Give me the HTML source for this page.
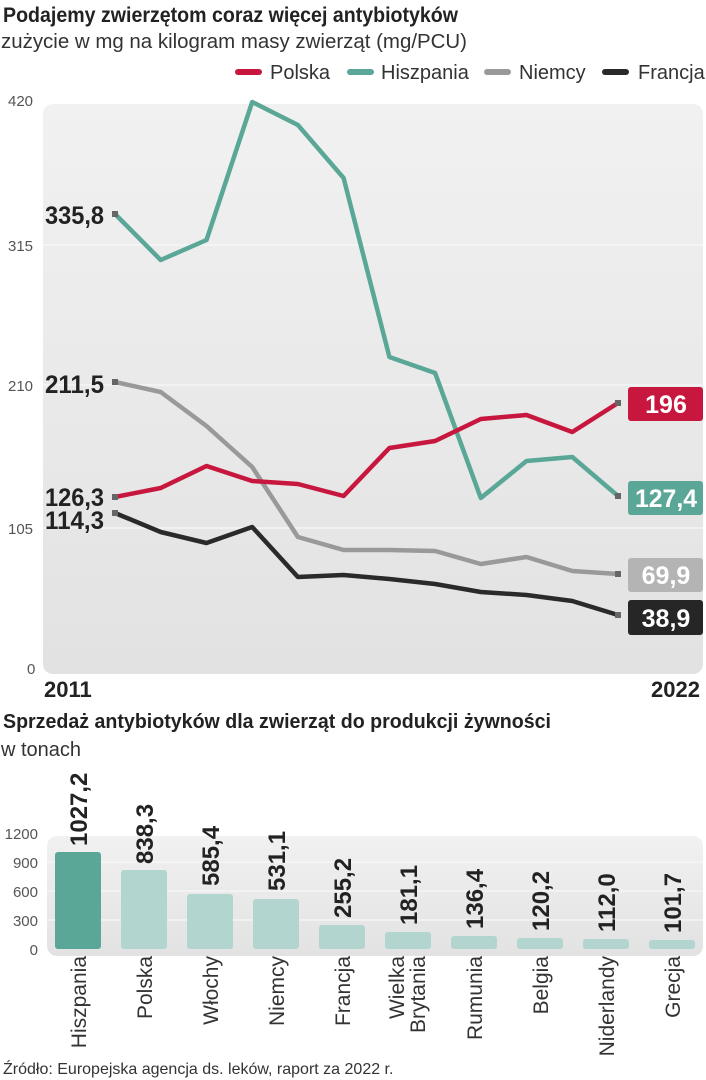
<!DOCTYPE html>
<html><head><meta charset="utf-8"><style>
html,body{margin:0;padding:0;background:#fff;}
svg{display:block;}
text{font-family:"Liberation Sans Narrow","Liberation Sans",sans-serif;}
</style></head><body>
<svg width="706" height="1080" viewBox="0 0 706 1080" xmlns="http://www.w3.org/2000/svg">
<defs>
<linearGradient id="g" x1="0" y1="0" x2="0" y2="1"><stop offset="0" stop-color="#f1f1f1"/><stop offset="1" stop-color="#e2e2e2"/></linearGradient>
</defs>
<text x="3" y="22" font-size="21" font-weight="bold" fill="#222" textLength="455" lengthAdjust="spacingAndGlyphs">Podajemy zwierzętom coraz więcej antybiotyków</text>
<text x="1" y="48" font-size="20" fill="#333" textLength="466" lengthAdjust="spacingAndGlyphs">zużycie w mg na kilogram masy zwierząt (mg/PCU)</text>
<g font-size="20" fill="#333">
<line x1="238" y1="72" x2="259" y2="72" stroke="#c8173f" stroke-width="6" stroke-linecap="round"/><text x="270" y="79">Polska</text>
<line x1="350" y1="72" x2="371" y2="72" stroke="#5aa797" stroke-width="6" stroke-linecap="round"/><text x="381" y="79">Hiszpania</text>
<line x1="487" y1="72" x2="508" y2="72" stroke="#999" stroke-width="6" stroke-linecap="round"/><text x="519" y="79">Niemcy</text>
<line x1="605" y1="72" x2="626" y2="72" stroke="#2a2a2a" stroke-width="6" stroke-linecap="round"/><text x="638" y="79">Francja</text>
</g>
<rect x="43" y="104" width="660" height="570" rx="10" fill="url(#g)"/>
<g stroke="#f8f8f8" stroke-width="1.2"><line x1="43" y1="245" x2="703" y2="245"/><line x1="43" y1="385" x2="703" y2="385"/><line x1="43" y1="528" x2="703" y2="528"/></g>
<g font-size="15" fill="#555">
<text x="8" y="106">420</text><text x="8" y="251">315</text><text x="8" y="391">210</text><text x="8" y="534">105</text><text x="27" y="674">0</text>
</g>
<g fill="none" stroke-width="4.5" stroke-linejoin="round">
<polyline stroke="#5aa797" points="115,214 160.7,260 206.5,240 252.2,102 297.9,125 343.6,178 389.4,357 435.1,373 480.8,498 526.5,461 572.3,457 618,496"/>
<polyline stroke="#999" points="115,382 160.7,392 206.5,426 252.2,467 297.9,537 343.6,550 389.4,550 435.1,551 480.8,564 526.5,557 572.3,571 618,574"/>
<polyline stroke="#2a2a2a" points="115,513 160.7,532 206.5,543 252.2,527 297.9,577 343.6,575 389.4,579 435.1,584 480.8,592 526.5,595 572.3,601 618,615"/>
<polyline stroke="#c8173f" points="115,497 160.7,488 206.5,466 252.2,481 297.9,484 343.6,496 389.4,448 435.1,441 480.8,419 526.5,415 572.3,432 618,403"/>
</g>
<g fill="#666">
<rect x="112" y="211" width="6" height="6"/><rect x="112" y="379" width="6" height="6"/><rect x="112" y="494" width="6" height="6"/><rect x="112" y="510" width="6" height="6"/>
<rect x="615" y="400" width="6" height="6"/><rect x="615" y="493" width="6" height="6"/><rect x="615" y="571" width="6" height="6"/><rect x="615" y="612" width="6" height="6"/>
</g>
<g font-size="25" font-weight="bold" fill="#222" text-anchor="end">
<text x="104" y="224" textLength="59" lengthAdjust="spacingAndGlyphs">335,8</text><text x="104" y="393" textLength="59" lengthAdjust="spacingAndGlyphs">211,5</text><text x="104" y="506" textLength="59" lengthAdjust="spacingAndGlyphs">126,3</text><text x="104" y="529" textLength="59" lengthAdjust="spacingAndGlyphs">114,3</text>
</g>
<rect x="628" y="387" width="75" height="34" rx="3" fill="#c8173f"/>
<rect x="628" y="481" width="75" height="34" rx="3" fill="#5aa797"/>
<rect x="628" y="558" width="75" height="34" rx="3" fill="#b4b4b4"/>
<rect x="628" y="600" width="75" height="35" rx="3" fill="#262626"/>
<g font-size="25" font-weight="bold" fill="#fff" text-anchor="middle">
<text x="666" y="413">196</text><text x="666" y="507" textLength="62" lengthAdjust="spacingAndGlyphs">127,4</text><text x="666" y="584">69,9</text><text x="666" y="627">38,9</text>
</g>
<text x="44" y="697" font-size="22" font-weight="bold" fill="#222">2011</text>
<text x="700" y="697" font-size="22" font-weight="bold" fill="#222" text-anchor="end">2022</text>

<text x="3" y="728" font-size="20" font-weight="bold" fill="#222" textLength="548" lengthAdjust="spacingAndGlyphs">Sprzedaż antybiotyków dla zwierząt do produkcji żywności</text>
<text x="1" y="756" font-size="20" fill="#333">w tonach</text>
<rect x="47" y="836" width="656" height="120" rx="10" fill="url(#g)"/>
<g stroke="#f8f8f8" stroke-width="1.2"><line x1="47" y1="862" x2="703" y2="862"/><line x1="47" y1="891" x2="703" y2="891"/><line x1="47" y1="920" x2="703" y2="920"/></g>
<g font-size="15" fill="#555" text-anchor="end">
<text x="38" y="839">1200</text><text x="38" y="868">900</text><text x="38" y="897">600</text><text x="38" y="926">300</text><text x="38" y="955">0</text>
</g>
<rect x="55" y="852" width="46" height="97" rx="3" fill="#5aa797"/>
<g fill="#b2d6cf">
<rect x="121" y="870" width="46" height="79" rx="3"/>
<rect x="187" y="894" width="46" height="55" rx="3"/>
<rect x="253" y="899" width="46" height="50" rx="3"/>
<rect x="319" y="925" width="46" height="24" rx="3"/>
<rect x="385" y="932" width="46" height="17" rx="3"/>
<rect x="451" y="936" width="46" height="13" rx="3"/>
<rect x="517" y="938" width="46" height="11" rx="3"/>
<rect x="583" y="939" width="46" height="10" rx="3"/>
<rect x="649" y="940" width="46" height="9" rx="3"/>
</g>
<g font-size="24" font-weight="bold" fill="#222">
<text transform="translate(87,846) rotate(-90)">1027,2</text>
<text transform="translate(153,864) rotate(-90)">838,3</text>
<text transform="translate(219,886) rotate(-90)">585,4</text>
<text transform="translate(285,891) rotate(-90)">531,1</text>
<text transform="translate(351,918) rotate(-90)">255,2</text>
<text transform="translate(417,925) rotate(-90)">181,1</text>
<text transform="translate(483,929) rotate(-90)">136,4</text>
<text transform="translate(549,931) rotate(-90)">120,2</text>
<text transform="translate(615,932) rotate(-90)">112,0</text>
<text transform="translate(681,933) rotate(-90)">101,7</text>
</g>
<g font-size="21" fill="#333" text-anchor="end">
<text transform="translate(86,956) rotate(-90)">Hiszpania</text>
<text transform="translate(152,956) rotate(-90)">Polska</text>
<text transform="translate(218,956) rotate(-90)">Włochy</text>
<text transform="translate(284,956) rotate(-90)">Niemcy</text>
<text transform="translate(350,956) rotate(-90)">Francja</text>
<text transform="translate(404,956) rotate(-90)">Wielka</text>
<text transform="translate(425,956) rotate(-90)">Brytania</text>
<text transform="translate(482,956) rotate(-90)">Rumunia</text>
<text transform="translate(548,956) rotate(-90)">Belgia</text>
<text transform="translate(614,956) rotate(-90)">Niderlandy</text>
<text transform="translate(680,956) rotate(-90)">Grecja</text>
</g>
<text x="3" y="1074" font-size="16" fill="#333">Źródło: Europejska agencja ds. leków, raport za 2022 r.</text>
</svg>
</body></html>
